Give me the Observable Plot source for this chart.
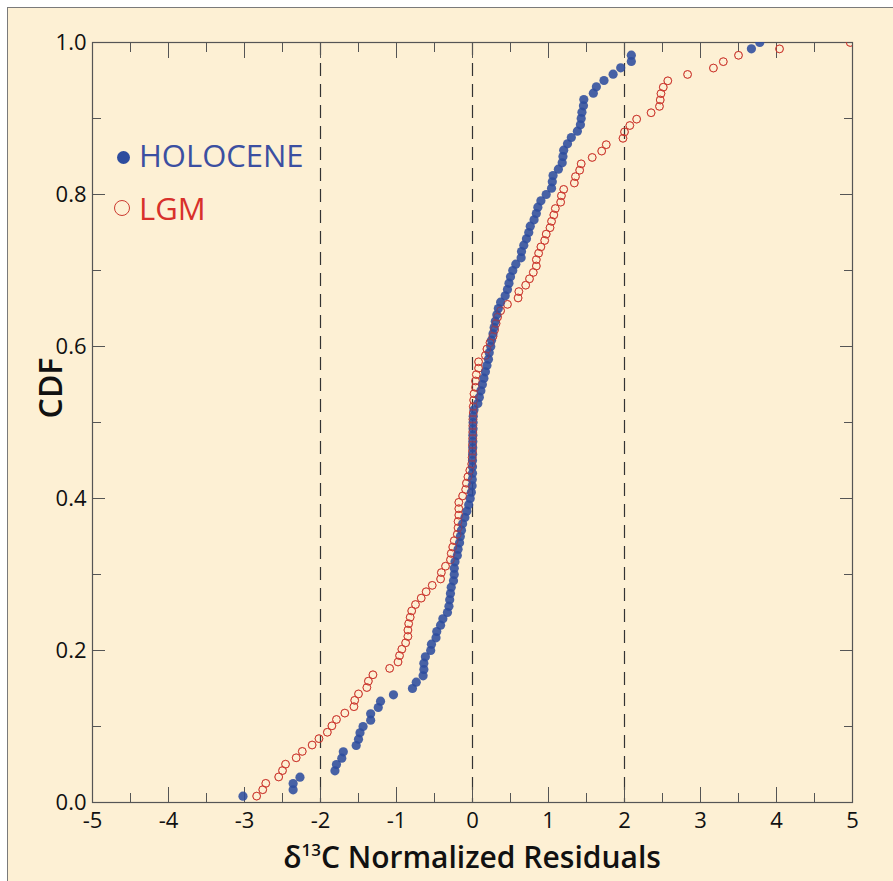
<!DOCTYPE html>
<html><head><meta charset="utf-8">
<script src="https://cdn.jsdelivr.net/npm/d3@7"></script>
<script src="https://cdn.jsdelivr.net/npm/@observablehq/plot@0.6"></script>
<style>
html,body{margin:0;padding:0;background:#fff;}
#wrap{position:relative;width:893px;height:881px;overflow:hidden;font-family:"Open Sans",sans-serif;}
#bg{position:absolute;left:7px;top:7px;width:1000px;height:1000px;background:#fdf0d4;border-left:1.5px solid #7a7a7a;border-top:1.5px solid #7a7a7a;}
#chart{position:absolute;left:0;top:0;}
.lab{position:absolute;white-space:nowrap;line-height:1;}
.mk{position:absolute;border-radius:50%;box-sizing:border-box;}
</style></head><body>
<div id="wrap">
  <div id="bg"></div>
  <div id="chart"></div>
  <div class="mk" style="left:117px;top:151px;width:13px;height:13px;background:#2d4c9e;"></div>
  <div class="lab" style="left:139px;top:139.5px;font-size:31px;font-weight:500;color:#3b4fa1;">HOLOCENE</div>
  <div class="mk" style="left:114px;top:200px;width:16px;height:16px;border:1.5px solid #cc3a30;"></div>
  <div class="lab" style="left:139px;top:192.5px;font-size:31px;font-weight:500;color:#d8302b;">LGM</div>
  <div class="lab" style="left:50px;top:388px;font-size:32px;font-weight:600;color:#111;transform:translate(-50%,-50%) rotate(-90deg);">CDF</div>
  <div class="lab" style="left:472px;top:841.5px;font-size:30px;font-weight:600;color:#111;transform:translateX(-50%);">δ<sup style="font-size:17px;vertical-align:0;position:relative;top:-12px;">13</sup>C Normalized Residuals</div>
</div>
<script>
// Sorted normalized residuals (x); CDF = rank / n
const holoceneX = [-3.02,-2.36,-2.36,-2.27,-1.81,-1.79,-1.72,-1.70,-1.53,-1.50,
 -1.48,-1.44,-1.34,-1.34,-1.24,-1.21,-1.04,-0.79,-0.74,-0.65,
 -0.64,-0.64,-0.62,-0.55,-0.54,-0.48,-0.47,-0.42,-0.39,-0.33,
 -0.31,-0.30,-0.29,-0.28,-0.25,-0.24,-0.24,-0.23,-0.20,
 -0.19,-0.17,-0.16,-0.145,-0.13,-0.10,-0.075,-0.05,-0.03,-0.015,
 -0.005,-0.003,0.0,0.0,0.0,0.002,0.003,0.004,0.005,0.007,
 0.008,0.01,0.02,0.07,0.09,0.11,0.13,0.15,0.17,0.19,
 0.21,0.22,0.24,0.25,0.27,0.285,0.30,0.32,0.34,
 0.37,0.43,0.46,0.48,0.50,0.53,0.57,0.64,0.645,0.675,
 0.71,0.74,0.76,0.81,0.84,0.86,0.90,0.97,1.04,1.05,
 1.06,1.13,1.18,1.19,1.20,1.25,1.30,1.38,1.42,1.43,
 1.44,1.46,1.465,1.59,1.63,1.73,1.85,1.95,2.09,2.09,
 3.67,3.78];
const lgmX = [-2.84,-2.76,-2.72,-2.55,-2.50,-2.46,-2.32,-2.24,-2.11,-2.02,
 -1.91,-1.85,-1.79,-1.68,-1.56,-1.55,-1.50,-1.39,-1.37,-1.31,
 -1.09,-0.98,-0.96,-0.93,-0.88,-0.85,-0.85,-0.84,-0.82,-0.80,
 -0.75,-0.675,-0.61,-0.53,-0.42,-0.41,-0.355,-0.29,
 -0.28,-0.26,-0.24,-0.20,-0.19,-0.19,-0.18,-0.18,-0.18,-0.13,-0.09,-0.08,-0.06,-0.035,
 -0.01,-0.005,0.0,0.0,0.003,0.004,0.005,0.006,0.01,0.01,0.015,0.02,
 0.04,0.04,0.05,0.08,0.08,0.17,0.19,
 0.23,0.27,0.29,0.31,0.33,0.37,
 0.46,0.60,0.61,0.70,0.75,0.80,0.84,0.84,0.87,0.90,0.95,0.97,1.02,1.04,1.07,1.09,
 1.16,1.17,1.20,1.34,1.355,1.41,1.43,1.575,1.70,1.76,
 1.98,2.0,2.07,2.16,2.35,2.46,2.47,2.48,2.51,2.57,
 2.83,3.17,3.30,3.50,4.04,4.97];
const xTickLabels = [-5,-4,-3,-2,-1,0,1,2,3,4,5];
const xMinorTicks = [-4.5,-3.5,-2.5,-1.5,-0.5,0.5,1.5,2.5,3.5,4.5];
const yTickLabels = [0,0.2,0.4,0.6,0.8,1.0];
const yMinorTicks = [0.1,0.3,0.5,0.7,0.9];
const dashedX = [-2,0,2];

const holo = holoceneX.map((x,i)=>({x, cdf:(i+1)/holoceneX.length}));
const lgm = lgmX.map((x,i)=>({x, cdf:(i+1)/lgmX.length}));
const noText = () => "";
const tickStroke = "#555";

const chart = Plot.plot({
  width: 893, height: 881,
  marginLeft: 92, marginRight: 41, marginTop: 42, marginBottom: 79,
  style: {background: "transparent", fontFamily: "Open Sans", overflow: "visible", color: "#111"},
  x: {domain: [-5, 5]},
  y: {domain: [0, 1]},
  marks: [
    Plot.ruleX(dashedX, {stroke: "#333", strokeWidth: 1.2, strokeDasharray: "13,8"}),
    Plot.axisX(xTickLabels, {anchor: "bottom", tickSize: -15, tickFormat: noText, stroke: tickStroke, label: null}),
    Plot.axisX(xMinorTicks, {anchor: "bottom", tickSize: -9, tickFormat: noText, stroke: tickStroke, label: null}),
    Plot.axisX(xTickLabels, {anchor: "top", tickSize: -15, tickFormat: noText, stroke: tickStroke, label: null}),
    Plot.axisX(xMinorTicks, {anchor: "top", tickSize: -9, tickFormat: noText, stroke: tickStroke, label: null}),
    Plot.axisY(yTickLabels, {anchor: "left", tickSize: -13, tickFormat: noText, stroke: tickStroke, label: null}),
    Plot.axisY(yMinorTicks, {anchor: "left", tickSize: -9, tickFormat: noText, stroke: tickStroke, label: null}),
    Plot.axisY(yTickLabels, {anchor: "right", tickSize: -13, tickFormat: noText, stroke: tickStroke, label: null}),
    Plot.axisY(yMinorTicks, {anchor: "right", tickSize: -9, tickFormat: noText, stroke: tickStroke, label: null}),
    Plot.axisX(xTickLabels, {anchor: "bottom", tickSize: 0, tickPadding: 10, tickFormat: d => String(d), fontSize: 22, fill: "#111", label: null}),
    Plot.axisY(yTickLabels, {anchor: "left", tickSize: 0, tickPadding: 6, tickFormat: d3.format(".1f"), fontSize: 22, fill: "#111", label: null}),
    Plot.frame({stroke: "#555", strokeWidth: 1.2}),
    Plot.dot(lgm, {x: "x", y: "cdf", r: 3.9, fill: "none", stroke: "#cc3a30", strokeWidth: 1, clip: true}),
    Plot.dot(holo, {x: "x", y: "cdf", r: 4.6, fill: "#2d4c9e", fillOpacity: 0.88, clip: true}),
    Plot.dot(lgm, {x: "x", y: "cdf", r: 3.9, fill: "none", stroke: "#cc3a30", strokeWidth: 1, strokeOpacity: 0.45, clip: true})
  ]
});
document.getElementById("chart").appendChild(chart);
</script>
</body></html>
